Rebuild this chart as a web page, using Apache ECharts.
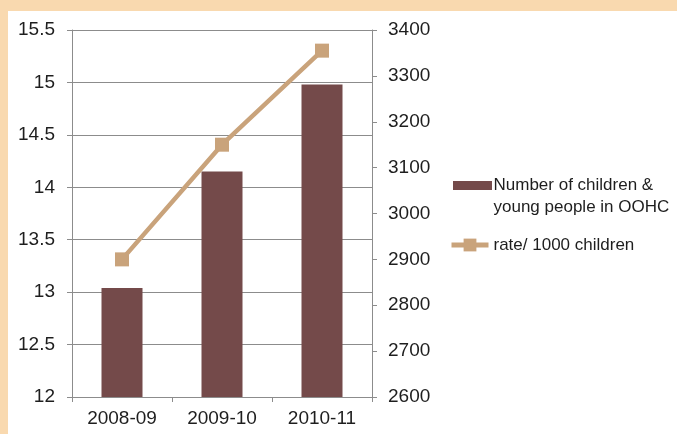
<!DOCTYPE html>
<html>
<head>
<meta charset="utf-8">
<script src="https://cdn.jsdelivr.net/npm/echarts@6/dist/echarts.min.js"></script>
<style>
html,body{margin:0;padding:0;background:#F9D9AF;}
#c{width:677px;height:434px;}
</style>
</head>
<body>
<div id="c"></div>
<script>
var categories = ['2008-09', '2009-10', '2010-11'];
var childrenValues = [13.04, 14.15, 14.98];
var rateValues = [2900, 3150, 3355];
var barName = 'Number of children &\nyoung people in OOHC';
var lineName = 'rate/ 1000 children';

var FONT = 'Liberation Sans';
var TXT = '#1e1e1e';
var AX = '#8c8c8c';
var BAR = '#744A4A';
var LINE = '#C9A37B';

var chart = echarts.init(document.getElementById('c'), null, {renderer: 'canvas'});
chart.setOption({
  animation: false,
  backgroundColor: '#F9D9AF',
  graphic: [{
    type: 'rect', z: -100, silent: true,
    shape: {x: 8, y: 11, width: 669, height: 423},
    style: {fill: '#ffffff'}
  }, {
    type: 'rect', z: 100, silent: true,
    shape: {x: 453, y: 181, width: 39, height: 9},
    style: {fill: BAR}
  }],
  textStyle: {fontFamily: FONT},
  grid: {left: 72, right: 305, top: 30, bottom: 37, containLabel: false},
  legend: {
    orient: 'vertical',
    left: 444,
    top: 169,
    itemGap: 16,
    itemWidth: 37,
    itemHeight: 16,
    textStyle: {fontFamily: FONT, fontSize: 17, color: TXT, lineHeight: 22},
    data: [
      {name: barName, icon: 'rect', itemHeight: 31, itemStyle: {color: 'rgba(0,0,0,0)', opacity: 0}},
      {name: lineName, lineStyle: {width: 5, color: LINE}}
    ]
  },
  xAxis: {
    type: 'category',
    data: categories,
    axisLine: {lineStyle: {color: AX, width: 1}},
    axisTick: {show: true, length: 5, lineStyle: {color: AX}},
    axisLabel: {fontFamily: FONT, fontSize: 19, color: TXT, margin: 12}
  },
  yAxis: [{
    type: 'value',
    min: 12, max: 15.5, interval: 0.5,
    position: 'left',
    axisLine: {show: true, lineStyle: {color: AX, width: 1}},
    axisTick: {show: true, length: 5, lineStyle: {color: AX}},
    splitLine: {show: true, lineStyle: {color: AX, width: 1}},
    axisLabel: {fontFamily: FONT, fontSize: 19, color: TXT, margin: 17}
  }, {
    type: 'value',
    min: 2600, max: 3400, interval: 100,
    position: 'right',
    axisLine: {show: true, lineStyle: {color: AX, width: 1}},
    axisTick: {show: true, length: 5, lineStyle: {color: AX}},
    splitLine: {show: false},
    axisLabel: {fontFamily: FONT, fontSize: 19, color: TXT, margin: 16,
      formatter: function (v) { return String(v); }}
  }],
  series: [{
    name: barName,
    type: 'bar',
    yAxisIndex: 0,
    data: childrenValues,
    barWidth: 41,
    itemStyle: {color: BAR}
  }, {
    name: lineName,
    type: 'line',
    yAxisIndex: 1,
    data: rateValues,
    symbol: 'rect',
    symbolSize: 14,
    lineStyle: {color: LINE, width: 4.5},
    itemStyle: {color: LINE}
  }]
});
</script>
</body>
</html>
